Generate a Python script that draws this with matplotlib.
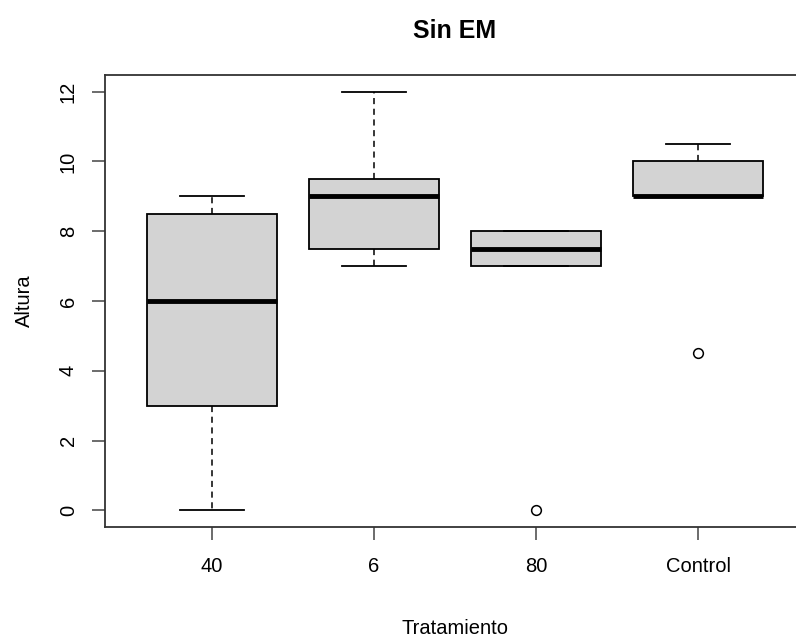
import matplotlib
matplotlib.use("Agg")
import matplotlib.pyplot as plt

plt.rcParams['font.family'] = ['Liberation Sans', 'DejaVu Sans']

# summary values
tratamientos = ['40', '6', '80', 'Control']
whisker_low = [0, 7, 7, 9]
q1 = [3, 7.5, 7, 9]
medians = [6, 9, 7.5, 9]
q3 = [8.5, 9.5, 8, 10]
whisker_high = [9, 12, 8, 10.5]
outliers = [[], [], [0], [4.5]]
y_ticks = [0, 2, 4, 6, 8, 10, 12]

stats = []
for i, name in enumerate(tratamientos):
    stats.append({
        'label': name,
        'whislo': whisker_low[i],
        'q1': q1[i],
        'med': medians[i],
        'q3': q3[i],
        'whishi': whisker_high[i],
        'fliers': outliers[i],
    })

fig = plt.figure(figsize=(7.96, 6.42), dpi=100)
ax = fig.add_axes([105 / 796, 115 / 642, 700 / 796, 452 / 642])

ax.bxp(stats, positions=[1, 2, 3, 4], widths=0.8, patch_artist=True,
       boxprops=dict(facecolor='#d3d3d3', edgecolor='black', linewidth=1.3),
       medianprops=dict(color='black', linewidth=3.5, solid_capstyle='butt'),
       whiskerprops=dict(color='black', linewidth=1.1, linestyle=(0, (4, 3))),
       capprops=dict(color='black', linewidth=1.3),
       capwidths=0.4,
       flierprops=dict(marker='o', markersize=7, markerfacecolor='none',
                       markeredgecolor='black', markeredgewidth=1.1))

ax.set_xlim(0.34, 4.66)
ax.set_ylim(-0.48, 12.48)
ax.set_yticks(y_ticks)
ax.set_yticklabels([str(v) for v in y_ticks], rotation=90, va='center')

for s in ax.spines.values():
    s.set_linewidth(1.3)
    s.set_color('#333333')
ax.tick_params(axis='both', length=9.5, width=1.1, color='#444444', labelsize=14.5)
ax.tick_params(axis='x', pad=12)
ax.tick_params(axis='y', pad=10)

ax.set_title('Sin EM', fontsize=18, fontweight='bold', pad=27)
ax.set_xlabel('Tratamiento', fontsize=14.5, labelpad=31)
ax.set_ylabel('Altura', fontsize=14.5, labelpad=18)

fig.savefig('out.png', dpi=100)
